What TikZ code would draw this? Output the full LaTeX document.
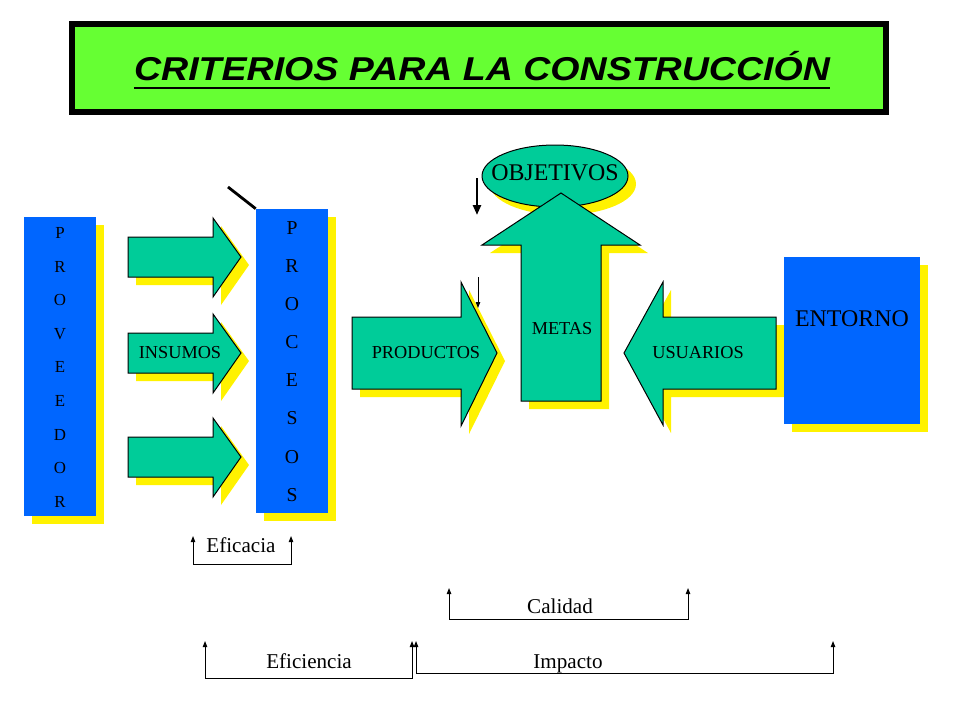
\documentclass[tikz,border=0pt]{standalone}
\usepackage{fontspec}
\usepackage{graphicx}
\setmainfont{Liberation Serif}
\newfontfamily\titfont{Liberation Sans}
\usetikzlibrary{shapes.geometric,shadows,arrows.meta}
\definecolor{azul}{RGB}{0,102,255}
\definecolor{verde}{RGB}{0,204,153}
\definecolor{verdetit}{RGB}{102,255,51}
\begin{document}
\begin{tikzpicture}[x=0.25mm, y=-0.25mm,
  sombra/.style={drop shadow={shadow xshift=2mm, shadow yshift=-2mm, fill=yellow, opacity=1}},
  caja/.style={fill=azul, sombra, inner sep=0pt},
  flecha/.style={fill=verde, draw=black, line width=0.25mm, sombra},
  letra/.style={font=\fontsize{12}{12}\selectfont},
  letrag/.style={font=\fontsize{14}{14}\selectfont},
  rotulo/.style={font=\fontsize{13}{13}\selectfont},
  grande/.style={font=\fontsize{17}{17}\selectfont},
  crit/.style={font=\fontsize{15}{15}\selectfont, text height=1.5ex, text depth=.25ex},
  punta/.style={-{Triangle[length=1.5mm,width=1.1mm]}},
  llave/.style={{Triangle[length=1.5mm,width=1.1mm]}-{Triangle[length=1.5mm,width=1.1mm]}, line width=0.25mm}]
\fill[white] (0,0) rectangle (960,720);
\useasboundingbox (0,0) rectangle (960,720);

% titulo
\draw[line width=1.5mm, fill=verdetit] (72,24) rectangle (886,112);
\node[anchor=base, inner sep=0pt, font=\titfont\bfseries\itshape\fontsize{26.7}{30}\selectfont] (tit) at (482,80) {\scalebox{1}[0.88]{CRITERIOS PARA LA CONSTRUCCIÓN}};
\draw[line width=0.65mm] ([yshift=-2mm]tit.base west) -- ([yshift=-2mm]tit.base east);

% proveedor
\node[caja, minimum width=18mm, minimum height=74.75mm] (prov) at (60,366.5) {};
\foreach \l [count=\i from 0] in {P,R,O,V,E,E,D,O,R}
  \node[letra] (prov\i) at (60,233+33.6*\i) {\l};

% insumos
\foreach \y in {257,353,457}
  \draw[flecha] (128,\y-20) -- (213,\y-20) -- (213,\y-39) -- (241,\y) -- (213,\y+40) -- (213,\y+20) -- (128,\y+20) -- cycle;
\node[rotulo] (ins) at (180,353) {INSUMOS};

% procesos
\node[caja, minimum width=18mm, minimum height=76mm] (proc) at (292,361) {};
\foreach \l [count=\i from 0] in {P,R,O,C,E,S,O,S}
  \node[letrag] (proc\i) at (292,228+38.1*\i) {\l};
\coordinate (raya) at (228,187);
\draw[line width=0.7mm] (raya) -- (proc.north west);

% productos
\draw[flecha] (352,317) -- (461,317) -- (461,282) -- (497,353) -- (461,426) -- (461,389) -- (352,389) -- cycle;
\node[rotulo] (prod) at (426,353) {PRODUCTOS};

% objetivos y metas
\node[ellipse, fill=verde, draw, line width=0.25mm, sombra, minimum width=36.5mm, minimum height=15.5mm, inner sep=0pt] (obj) at (555,176) {};
\node[grande] (objt) at (555,173) {OBJETIVOS};
\draw[flecha] (521,401) -- (521,245) -- (482,245) -- (561,193) -- (640,245) -- (601,245) -- (601,401) -- cycle;
\node[rotulo] (metas) at (562,329) {METAS};

% usuarios y entorno
\draw[flecha] (776,317) -- (663,317) -- (663,282) -- (624,353) -- (663,425) -- (663,389) -- (776,389) -- cycle;
\node[rotulo] (usu) at (698,353) {USUARIOS};
\node[caja, minimum width=34mm, minimum height=41.75mm] (ent) at (852,340.5) {};
\node[grande] (entt) at (852,319) {ENTORNO};

% flechitas
\coordinate (o1) at (477,178); \coordinate (o2) at (477,215);
\draw[line width=0.6mm, -{Triangle[length=2.5mm,width=2mm]}] (o1) -- (o2);
\coordinate (m1) at (478,277); \coordinate (m2) at (478,308);
\draw[punta, line width=0.25mm] (m1) -- (m2);

% criterios
\coordinate (efa1) at (193,536); \coordinate (efa2) at (291,536);
\draw[llave] (efa1) -- ++(0,28) -| (efa2);
\node[crit] (efa) at (241,548) {Eficacia};
\coordinate (cal1) at (449,588); \coordinate (cal2) at (688,588);
\draw[llave] (cal1) -- ++(0,31) -| (cal2);
\node[crit] (cal) at (560,609) {Calidad};
\coordinate (efi1) at (205,641); \coordinate (efi2) at (412,641);
\draw[llave] (efi1) -- ++(0,37) -| (efi2);
\node[crit] (efi) at (309,664) {Eficiencia};
\coordinate (imp1) at (416,641); \coordinate (imp2) at (833,641);
\draw[llave] (imp1) -- ++(0,32) -| (imp2);
\node[crit] (imp) at (568,664) {Impacto};
\end{tikzpicture}
\end{document}
